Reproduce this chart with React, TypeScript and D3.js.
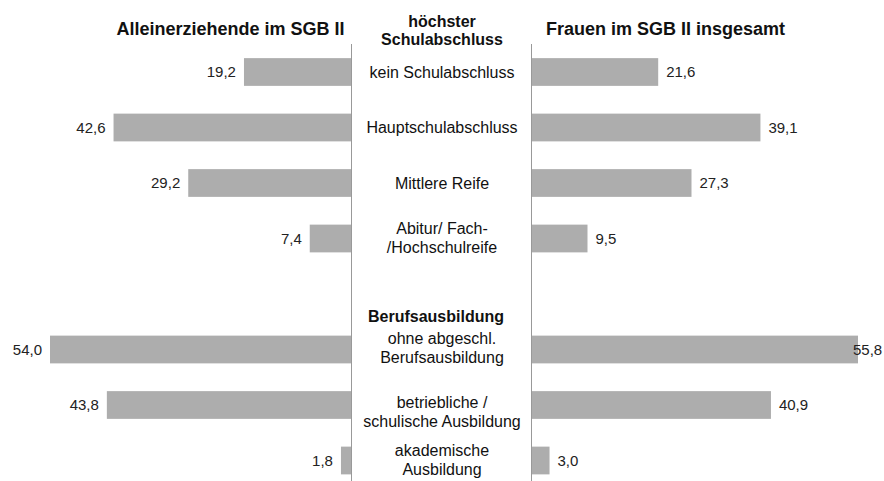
import React from "react";
import * as d3 from "d3";

// DATA
const categories = [
  "kein Schulabschluss",
  "Hauptschulabschluss",
  "Mittlere Reife",
  "Abitur/ Fach-\n/Hochschulreife",
  "",
  "ohne abgeschl.\nBerufsausbildung",
  "betriebliche /\nschulische Ausbildung",
  "akademische\nAusbildung",
];
const alleinerziehende = [19.2, 42.6, 29.2, 7.4, null, 54.0, 43.8, 1.8];
const frauen = [21.6, 39.1, 27.3, 9.5, null, 55.8, 40.9, 3.0];
const titleLeft = "Alleinerziehende im SGB II";
const titleRight = "Frauen im SGB II insgesamt";
const headerSchule = ["höchster", "Schulabschluss"];
const headerBeruf = "Berufsausbildung";

const W = 884;
const H = 481;
const FONT = "'Liberation Sans', Arial, sans-serif";
const BAR = "#adadad";

const fmt = (v: number) => v.toFixed(1).replace(".", ",");

// small vertical nudges of the centre labels (as in the original)
const labelShift = [0, 0, 0, -1, 0, -1.5, 6.5, -1];

export default function App() {
  // LAYOUT
  const leftAxis = 351;
  const rightAxis = 532;
  const mid = 442;

  // SCALES
  const y = d3
    .scaleBand<string>()
    .domain(categories.map((_, i) => String(i)))
    .range([44.25, 488.25])
    .paddingInner(0.5)
    .paddingOuter(0.25);

  const xLeft = d3.scaleLinear().domain([0, 54]).range([leftAxis, leftAxis - 301]);
  const xRight = d3.scaleLinear().domain([0, 55.8]).range([rightAxis, rightAxis + 326]);

  const bw = y.bandwidth();

  return (
    <svg
      width={W}
      height={H}
      style={{ position: "absolute", left: 0, top: 0, background: "#fff" }}
      fontFamily={FONT}
    >
      {/* TITLES */}
      <text x={230.5} y={35} textAnchor="middle" fontSize={18} fontWeight="bold" fill="#111">
        {titleLeft}
      </text>
      <text x={665.5} y={35} textAnchor="middle" fontSize={18} fontWeight="bold" fill="#111">
        {titleRight}
      </text>
      <text x={mid} y={27} textAnchor="middle" fontSize={16} fontWeight="bold" fill="#111">
        <tspan x={mid}>{headerSchule[0]}</tspan>
        <tspan x={mid} dy={18}>{headerSchule[1]}</tspan>
      </text>
      <text x={436} y={322} textAnchor="middle" fontSize={16} fontWeight="bold" fill="#111">
        {headerBeruf}
      </text>

      {/* LEFT BARS */}
      {alleinerziehende.map((v, i) =>
        v == null ? null : (
          <g key={"l" + i}>
            <rect
              x={xLeft(v)}
              y={y(String(i))}
              width={leftAxis - xLeft(v)}
              height={bw}
              fill={BAR}
            />
            <text
              x={xLeft(v) - 8}
              y={(y(String(i)) as number) + bw / 2}
              dy="0.35em"
              textAnchor="end"
              fontSize={15}
              fill="#222"
            >
              {fmt(v)}
            </text>
          </g>
        )
      )}

      {/* RIGHT BARS */}
      {frauen.map((v, i) =>
        v == null ? null : (
          <g key={"r" + i}>
            <rect
              x={rightAxis}
              y={y(String(i))}
              width={xRight(v) - rightAxis}
              height={bw}
              fill={BAR}
            />
            <text
              x={Math.min(xRight(v) + 8, W - 31)}
              y={(y(String(i)) as number) + bw / 2}
              dy="0.35em"
              textAnchor="start"
              fontSize={15}
              fill="#222"
            >
              {fmt(v)}
            </text>
          </g>
        )
      )}

      {/* AXIS LINES */}
      <line x1={leftAxis + 0.5} x2={leftAxis + 0.5} y1={44} y2={H} stroke="#999" />
      <line x1={rightAxis - 0.5} x2={rightAxis - 0.5} y1={44} y2={H} stroke="#999" />

      {/* CATEGORY LABELS */}
      {categories.map((c, i) => {
        if (!c) return null;
        const lines = c.split("\n");
        const lh = 19;
        const cy = (y(String(i)) as number) + bw / 2;
        const startY = cy + labelShift[i] - ((lines.length - 1) * lh) / 2;
        return (
          <text key={"c" + i} textAnchor="middle" fontSize={16} fill="#111">
            {lines.map((t, j) => (
              <tspan key={j} x={mid} y={startY + j * lh} dy="0.35em">
                {t}
              </tspan>
            ))}
          </text>
        );
      })}
    </svg>
  );
}
